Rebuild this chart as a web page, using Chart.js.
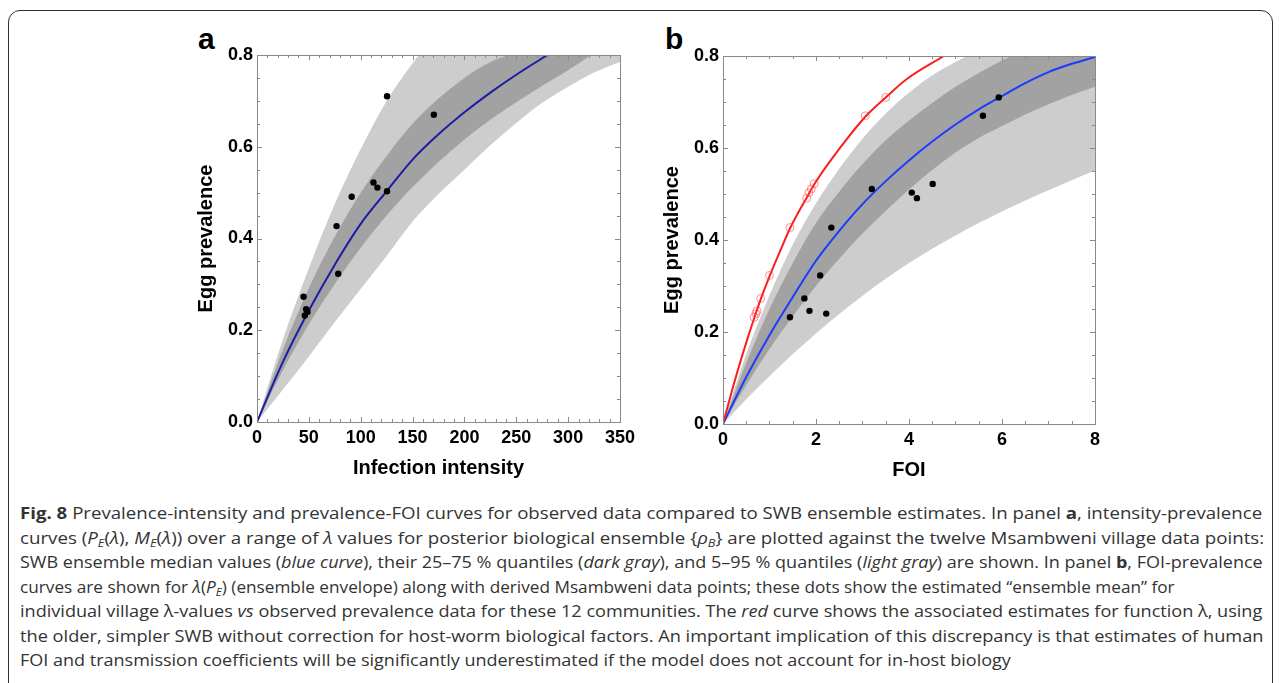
<!DOCTYPE html>
<html>
<head>
<meta charset="utf-8">
<script src="https://cdn.jsdelivr.net/npm/chart.js@4/dist/chart.umd.min.js"></script>
<style>
  html, body { margin: 0; padding: 0; background: #fff; }
  body { width: 1281px; height: 683px; position: relative; overflow: hidden; }
  .box { position: absolute; left: 8px; top: 10px; width: 1265px; height: 720px;
         border: 1.5px solid #2e2e2e; border-radius: 12px; box-sizing: border-box; }
  canvas { position: absolute; }
  .letter { position: absolute; font: bold 30px "Liberation Sans", Arial, sans-serif; color: #000; line-height: 30px; }
  .cap { position: absolute; left: 20px; white-space: nowrap; font: 16.5px "Open Sans", sans-serif;
         color: #333; line-height: 20px; transform-origin: 0 50%; }
  .cap sub { font-size: 0.68em; vertical-align: -0.3em; line-height: 0; }
</style>
</head>
<body>
<div class="box"></div>
<div class="letter" style="left:198px; top:24px;">a</div>
<div class="letter" style="left:665px; top:24px;">b</div>
<canvas id="panelA" width="460" height="470" style="left:180px; top:20px;"></canvas>
<canvas id="panelB" width="460" height="470" style="left:645px; top:20px;"></canvas>

<div class="cap" data-end="1262" style="top:503px;"><b>Fig. 8</b> Prevalence-intensity and prevalence-FOI curves for observed data compared to SWB ensemble estimates. In panel <b>a</b>, intensity-prevalence</div>
<div class="cap" data-end="1264" style="top:527.5px;">curves (<i>P<sub>E</sub></i>(<i>λ</i>), <i>M<sub>E</sub></i>(<i>λ</i>)) over a range of <i>λ</i> values for posterior biological ensemble {<i>ρ<sub>B</sub></i>} are plotted against the twelve Msambweni village data points:</div>
<div class="cap" data-end="1263" style="top:552px;">SWB ensemble median values (<i>blue curve</i>), their 25–75 % quantiles (<i>dark gray</i>), and 5–95 % quantiles (<i>light gray</i>) are shown. In panel <b>b</b>, FOI-prevalence</div>
<div class="cap" data-end="1175" style="top:576.5px;">curves are shown for <i>λ</i>(<i>P<sub>E</sub></i>) (ensemble envelope) along with derived Msambweni data points; these dots show the estimated “ensemble mean” for</div>
<div class="cap" data-end="1262" style="top:601px;">individual village λ-values <i>vs</i> observed prevalence data for these 12 communities. The <i>red</i> curve shows the associated estimates for function λ, using</div>
<div class="cap" data-end="1263" style="top:625.5px;">the older, simpler SWB without correction for host-worm biological factors. An important implication of this discrepancy is that estimates of human</div>
<div class="cap" data-end="1011" style="top:650px;">FOI and transmission coefficients will be significantly underestimated if the model does not account for in-host biology</div>

<script>
// ---- Msambweni villages (12 communities) ----
const villagePrevalence = [0.232, 0.240, 0.246, 0.273, 0.323, 0.427, 0.491, 0.503, 0.511, 0.522, 0.670, 0.710];
const villageIntensity  = [46.1, 48.7, 47.4, 44.9, 78.3, 76.7, 91.3, 125.4, 116.1, 112.3, 170.5, 125.4];
const villageFoi        = [1.44, 2.22, 1.86, 1.75, 2.09, 2.33, 4.17, 4.06, 3.20, 4.51, 5.59, 5.93];
const villageFoiSimple  = [0.67, 0.71, 0.73, 0.81, 1.00, 1.44, 1.80, 1.85, 1.90, 1.96, 3.06, 3.50];

// ---- panel a: intensity-prevalence ensemble curves ----
const medianA_x  = [0, 25, 50, 75, 100, 125, 150, 175, 200, 225, 250, 280];
const medianA_y  = [0, 0.131, 0.243, 0.343, 0.432, 0.503, 0.572, 0.627, 0.675, 0.718, 0.757, 0.800];
const q95A_x     = [0, 25, 50, 75, 100, 125, 150, 156];
const q95A_y     = [0, 0.180, 0.335, 0.475, 0.595, 0.700, 0.782, 0.800];
const q75A_x     = [0, 25, 50, 75, 100, 125, 150, 175, 200, 225, 242];
const q75A_y     = [0, 0.158, 0.292, 0.404, 0.500, 0.580, 0.650, 0.705, 0.750, 0.785, 0.800];
const q25A_x     = [0, 25, 50, 75, 100, 125, 150, 175, 200, 225, 250, 275, 300, 322];
const q25A_y     = [0, 0.113, 0.213, 0.301, 0.380, 0.450, 0.512, 0.567, 0.616, 0.659, 0.697, 0.733, 0.767, 0.800];
const q05A_x     = [0, 25, 50, 75, 100, 125, 150, 175, 200, 225, 250, 275, 300, 325, 350];
const q05A_y     = [0, 0.071, 0.143, 0.218, 0.290, 0.362, 0.437, 0.497, 0.550, 0.603, 0.652, 0.696, 0.731, 0.762, 0.785];

// ---- panel b: FOI-prevalence ensemble curves ----
const foiGrid    = [0, 0.5, 1, 1.5, 2, 2.5, 3, 3.5, 4, 4.5, 5, 5.5, 6, 6.5, 7, 7.5, 8];
const medianB_y  = [0, 0.102, 0.193, 0.276, 0.355, 0.420, 0.478, 0.528, 0.573, 0.614, 0.651, 0.684, 0.713, 0.741, 0.765, 0.783, 0.798];
const q95B_x     = [0, 0.5, 1, 1.5, 2, 2.5, 3, 3.5, 4, 4.5, 5, 5.25];
const q95B_y     = [0, 0.152, 0.280, 0.390, 0.480, 0.555, 0.620, 0.675, 0.720, 0.758, 0.787, 0.800];
const q75B_x     = [0, 0.5, 1, 1.5, 2, 2.5, 3, 3.5, 4, 4.5, 5, 5.5, 6, 6.2];
const q75B_y     = [0, 0.133, 0.250, 0.350, 0.437, 0.505, 0.565, 0.617, 0.660, 0.698, 0.733, 0.763, 0.790, 0.800];
const q25B_y     = [0, 0.085, 0.163, 0.234, 0.300, 0.359, 0.414, 0.463, 0.510, 0.552, 0.590, 0.622, 0.648, 0.673, 0.695, 0.715, 0.733];
const q05B_y     = [0, 0.054, 0.104, 0.152, 0.197, 0.239, 0.279, 0.316, 0.350, 0.381, 0.410, 0.437, 0.462, 0.486, 0.508, 0.530, 0.551];
// simpler SWB (no host-worm correction)
const simpleB_x  = [0, 0.25, 0.5, 0.67, 0.81, 1.0, 1.25, 1.44, 1.8, 2.0, 2.5, 3.06, 3.5, 3.94, 4.75];
const simpleB_y  = [0, 0.093, 0.177, 0.230, 0.271, 0.321, 0.381, 0.425, 0.492, 0.527, 0.598, 0.668, 0.710, 0.749, 0.800];

const LIGHT = '#cdcdcd', DARK = '#a2a2a2';
Chart.defaults.font.family = "'Liberation Sans', Arial, sans-serif";

const pts = (xs, ys) => xs.map((x, i) => ({ x, y: ys[i] }));

// quantile band edge: everything above the edge gets painted, later layers paint over
function edge(xs, ys, color, order) {
  return { data: pts(xs, ys), showLine: true, pointRadius: 0, borderWidth: 0,
           borderColor: 'rgba(0,0,0,0)', backgroundColor: color, fill: 'end',
           cubicInterpolationMode: 'monotone', order };
}
function curve(xs, ys, color, width, order) {
  return { data: pts(xs, ys), showLine: true, pointRadius: 0, borderWidth: width,
           borderColor: color, fill: false, cubicInterpolationMode: 'monotone', order };
}
function dots(xs, ys, order) {
  return { data: pts(xs, ys), showLine: false, pointRadius: 3.2, pointHoverRadius: 3.2,
           pointBackgroundColor: '#000', pointBorderWidth: 0, order };
}

// framed box with inward major/minor ticks on all four sides
const frameTicks = {
  id: 'frameTicks',
  afterDraw(chart, args, o) {
    const { ctx, chartArea: a } = chart;
    const xs = chart.scales.x, ys = chart.scales.y;
    ctx.save();
    ctx.strokeStyle = '#8a8a8a';
    ctx.lineWidth = 1;
    ctx.beginPath();
    const nx = Math.round((xs.max - xs.min) / o.xMinor);
    for (let i = 0; i <= nx; i++) {
      const len = (i % o.xEvery === 0) ? 5 : 3;
      const px = Math.round(xs.getPixelForValue(xs.min + i * o.xMinor)) + 0.5;
      ctx.moveTo(px, a.bottom); ctx.lineTo(px, a.bottom - len);
      ctx.moveTo(px, a.top); ctx.lineTo(px, a.top + len);
    }
    const ny = Math.round((ys.max - ys.min) / o.yMinor);
    for (let i = 0; i <= ny; i++) {
      const len = (i % o.yEvery === 0) ? 5 : 3;
      const py = Math.round(ys.getPixelForValue(ys.min + i * o.yMinor)) + 0.5;
      ctx.moveTo(a.left, py); ctx.lineTo(a.left + len, py);
      ctx.moveTo(a.right, py); ctx.lineTo(a.right - len, py);
    }
    ctx.stroke();
    ctx.strokeRect(Math.round(a.left) + 0.5, Math.round(a.top) + 0.5,
                   Math.round(a.right - a.left), Math.round(a.bottom - a.top));
    ctx.restore();
  }
};

const tickFont = { family: "'Liberation Sans', Arial, sans-serif", weight: 'bold', size: 18 };
const titleFont = { family: "'Liberation Sans', Arial, sans-serif", weight: 'bold', size: 20 };

function options(p) {
  return {
    responsive: false, animation: false, events: [],
    layout: { padding: { left: 0, top: p.top, right: p.right, bottom: 0 }, autoPadding: false },
    plugins: { legend: { display: false }, tooltip: { enabled: false },
               frameTicks: { xMinor: p.xMinor, xEvery: p.xEvery, yMinor: 0.05, yEvery: 4 } },
    scales: {
      x: {
        type: 'linear', min: 0, max: p.xMax,
        afterFit(s) { s.height = p.xH; },
        grid: { display: false, drawTicks: false }, border: { display: false },
        ticks: { stepSize: p.xStep, padding: 5, color: '#000', font: tickFont, maxRotation: 0, autoSkip: false },
        title: { display: true, text: p.xTitle, color: '#000', font: titleFont, padding: { top: 0, bottom: p.xTitlePad } }
      },
      y: {
        type: 'linear', min: 0, max: 0.8,
        afterFit(s) { s.width = p.yW; },
        grid: { display: false, drawTicks: false }, border: { display: false },
        ticks: { stepSize: 0.2, padding: 4, color: '#000', font: tickFont, callback: v => v.toFixed(1) },
        title: { display: true, text: 'Egg prevalence', color: '#000', font: titleFont, padding: { top: p.yTitlePad, bottom: 0 } }
      }
    }
  };
}

new Chart(document.getElementById('panelA'), {
  type: 'line',
  data: { datasets: [
    dots(villageIntensity, villagePrevalence, 0),
    curve(medianA_x, medianA_y, '#1c1ca6', 2, 1),
    edge(q95A_x, q95A_y, '#ffffff', 2),
    edge(q75A_x, q75A_y, LIGHT, 3),
    edge(q25A_x, q25A_y, DARK, 4),
    edge(q05A_x, q05A_y, LIGHT, 5)
  ] },
  options: options({ top: 35, right: 17, xH: 68, yW: 77, xMax: 350, xStep: 50, xMinor: 10, xEvery: 5,
                     xTitle: 'Infection intensity', xTitlePad: 10, yTitlePad: 14.5 }),
  plugins: [frameTicks]
});

new Chart(document.getElementById('panelB'), {
  type: 'line',
  data: { datasets: [
    dots(villageFoi, villagePrevalence, 0),
    { data: pts(villageFoiSimple, villagePrevalence), showLine: false, pointRadius: 4, pointHoverRadius: 4,
      pointBackgroundColor: 'rgba(0,0,0,0)', pointBorderColor: 'rgba(255,70,70,0.6)', pointBorderWidth: 1, order: 1 },
    curve(simpleB_x, simpleB_y, '#fa1e1e', 2, 2),
    curve(foiGrid, medianB_y, '#1a3cff', 2, 3),
    edge(q95B_x, q95B_y, '#ffffff', 4),
    edge(q75B_x, q75B_y, LIGHT, 5),
    edge(foiGrid, q25B_y, DARK, 6),
    edge(foiGrid, q05B_y, LIGHT, 7)
  ] },
  options: options({ top: 36, right: 6, xH: 66, yW: 78, xMax: 8, xStep: 2, xMinor: 0.5, xEvery: 4,
                     xTitle: 'FOI', xTitlePad: 8, yTitlePad: 15.5 }),
  plugins: [frameTicks]
});

// caption lines: condense each line to its measured run length
function fitCaption() {
  document.querySelectorAll('.cap').forEach(el => {
    const target = parseFloat(el.dataset.end) - 20;
    const w = el.offsetWidth;
    if (w > 0) el.style.transform = 'scaleX(' + (target / w).toFixed(4) + ')';
  });
}
fitCaption();
if (document.fonts && document.fonts.ready) document.fonts.ready.then(fitCaption);
</script>
</body>
</html>
